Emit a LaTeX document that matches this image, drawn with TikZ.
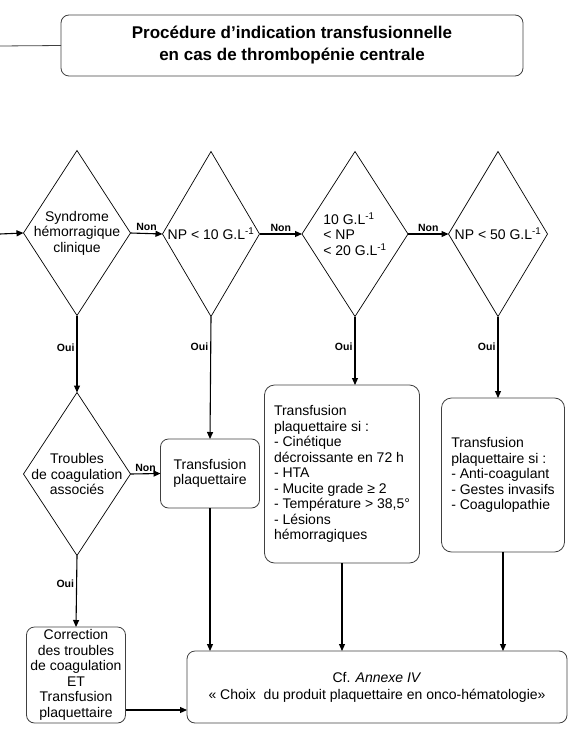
\documentclass[tikz,border=0pt]{standalone}
\usepackage{fontspec}
\setmainfont{Liberation Sans}
\usepackage{tikz}
\usetikzlibrary{shapes.geometric, arrows.meta, positioning, calc}

\newcommand{\glunit}{G.L\textsuperscript{-1}}

\begin{document}
\begin{tikzpicture}[
    x=1pt, y=-1pt,
    decision/.style={diamond, draw, line width=0.7pt, aspect=0.65, inner sep=-6pt, outer sep=0pt, align=center, font=\fontsize{14}{15.5}\selectfont},
    actionbox/.style={rectangle, rounded corners=8pt, draw=black!75, line width=0.8pt, inner sep=0pt, outer sep=0pt, align=center, font=\fontsize{14}{15.5}\selectfont},
    titlebox/.style={actionbox, font=\bfseries\fontsize{17}{22}\selectfont},
    flow/.style={-{Triangle[length=7pt, width=6pt]}, line width=1.1pt},
    answer/.style={font=\bfseries\fontsize{10.5}{12}\selectfont, inner sep=2pt}
  ]
    \useasboundingbox (0,0) rectangle (568,738);

    % Title
    \node[titlebox, minimum width=462, minimum height=61] (title) at (292,45.5)
      {Procédure d’indication transfusionnelle\\en cas de thrombopénie centrale};
    \coordinate (titlein) at (0,46);
    \draw[line width=0.8pt, black!75] (titlein) -- (title.west);

    % Decisions
    \coordinate (entry) at (0,234);
    \node[decision, minimum width=107, minimum height=165] (synd) at (77,233) {Syndrome\\hémorragique\\clinique};
    \node[decision, minimum width=97, minimum height=165] (np10) at (211,234) {NP < 10 \glunit};
    \node[decision, minimum width=106, minimum height=165, align=left] (np20) at (355,234) {10 \glunit\\< NP\\< 20 \glunit};
    \node[decision, minimum width=99, minimum height=165] (np50) at (498,234) {NP < 50 \glunit};
    \node[decision, minimum width=107, minimum height=163] (coag) at (77,474) {Troubles\\de coagulation\\associés};

    % Actions
    \node[actionbox, minimum width=99, minimum height=69] (transf) at (210,473.5) {Transfusion\\plaquettaire};
    \node[actionbox, rounded corners=10pt, minimum width=155, minimum height=178, align=left] (crit20) at (342,474)
      {Transfusion\\plaquettaire si :\\- Cinétique\\décroissante en 72 h\\- HTA\\- Mucite grade ≥ 2\\- Température > 38,5°\\- Lésions\\hémorragiques};
    \node[actionbox, rounded corners=10pt, minimum width=123, minimum height=154, align=left] (crit50) at (503,475)
      {Transfusion\\plaquettaire si :\\- Anti-coagulant\\- Gestes invasifs\\- Coagulopathie};
    \node[actionbox, minimum width=99, minimum height=96] (correct) at (76,675)
      {Correction\\des troubles\\de coagulation\\ET\\Transfusion\\plaquettaire};
    \node[actionbox, minimum width=380, minimum height=72] (annexe) at (377,687)
      {Cf. \textit{Annexe IV}\\[1.5pt]« Choix\ \ du produit plaquettaire en onco-hématologie»};
    \coordinate (join) at (0,710);

    % Flows
    \draw[flow] (entry) -- (synd.west);
    \draw[flow] (synd.east) -- node[answer, above] {Non} (np10.west);
    \draw[flow] (np10.east) -- node[answer, above] {Non} (np20.west);
    \draw[flow] (np20.east) -- node[answer, above] {Non} (np50.west);
    \draw[flow] (synd.south) -- node[answer, left, pos=0.42] {Oui} (coag.north);
    \draw[flow] (np10.south) -- node[answer, left, pos=0.25] {Oui} (transf.north);
    \draw[flow] (np20.south) -- node[answer, left, pos=0.44] {Oui} (np20.south |- crit20.north);
    \draw[flow] (np50.south) -- node[answer, left, pos=0.37] {Oui} (np50.south |- crit50.north);
    \draw[flow] (coag.east) -- node[answer, above] {Non} (transf.west);
    \draw[flow] (coag.south) -- node[answer, left, pos=0.39] {Oui} (correct.north);
    \draw[flow] (transf.south) -- (transf.south |- annexe.north);
    \draw[flow] (crit20.south) -- (crit20.south |- annexe.north);
    \draw[flow] (crit50.south) -- (crit50.south |- annexe.north);
    \draw[flow] (correct.east |- join) -- (join -| annexe.west);

\end{tikzpicture}
\end{document}
